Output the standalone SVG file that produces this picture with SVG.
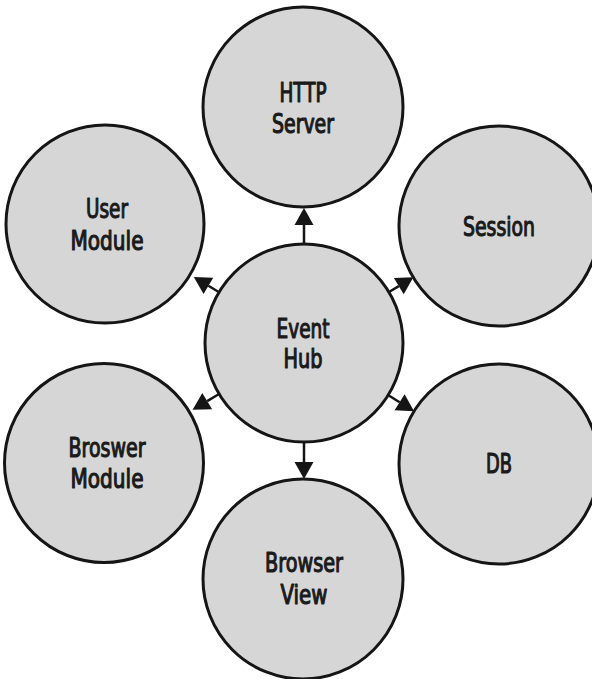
<svg xmlns="http://www.w3.org/2000/svg" width="592" height="679" viewBox="0 0 592 679">
<style>
.node circle{fill:#d6d6d6;stroke:#151515;stroke-width:3}
.node text{font-family:"DejaVu Sans Condensed","Liberation Sans Narrow","Liberation Sans",sans-serif;font-size:26px;font-weight:normal;fill:#1a1a1a;stroke:#1a1a1a;stroke-width:1.1;stroke-linejoin:round;text-anchor:middle}
.conn line{stroke:#151515;stroke-width:2.5;marker-end:url(#arr)}
</style>
<defs>
<marker id="arr" markerUnits="userSpaceOnUse" markerWidth="17" markerHeight="19" refX="0" refY="9.5" orient="auto" overflow="visible">
<path d="M0,0 L17,9.5 L0,19 z" fill="#151515"/>
</marker>
</defs>
<rect width="592" height="679" fill="#ffffff"/>
<g id="http-server" class="node">
<circle cx="303" cy="107" r="100"/>
<text x="303" y="102" textLength="47" lengthAdjust="spacingAndGlyphs">HTTP</text>
<text x="303" y="133" textLength="62" lengthAdjust="spacingAndGlyphs">Server</text>
</g>
<g id="user-module" class="node">
<circle cx="105" cy="224" r="99"/>
<text x="107" y="218" textLength="42" lengthAdjust="spacingAndGlyphs">User</text>
<text x="107" y="250" textLength="73" lengthAdjust="spacingAndGlyphs">Module</text>
</g>
<g id="session" class="node">
<circle cx="499" cy="226" r="100"/>
<text x="499" y="236" textLength="72" lengthAdjust="spacingAndGlyphs">Session</text>
</g>
<g id="event-hub" class="node">
<circle cx="304" cy="343" r="99"/>
<text x="303" y="338" textLength="53" lengthAdjust="spacingAndGlyphs">Event</text>
<text x="303" y="368" textLength="39" lengthAdjust="spacingAndGlyphs">Hub</text>
</g>
<g id="broswer-module" class="node">
<circle cx="104" cy="463" r="99.5"/>
<text x="107" y="457" textLength="77" lengthAdjust="spacingAndGlyphs">Broswer</text>
<text x="107" y="488" textLength="73" lengthAdjust="spacingAndGlyphs">Module</text>
</g>
<g id="db" class="node">
<circle cx="499" cy="464" r="100"/>
<text x="499" y="473" textLength="26" lengthAdjust="spacingAndGlyphs">DB</text>
</g>
<g id="browser-view" class="node">
<circle cx="303" cy="579" r="100"/>
<text x="304" y="572" textLength="78" lengthAdjust="spacingAndGlyphs">Browser</text>
<text x="304" y="604" textLength="47" lengthAdjust="spacingAndGlyphs">View</text>
</g>
<g id="connectors" class="conn">
<line x1="304" y1="244" x2="304" y2="225"/>
<line x1="304" y1="442" x2="304" y2="462"/>
<line x1="219.1" y1="292.2" x2="208.4" y2="285.8"/>
<line x1="389" y1="292" x2="398.8" y2="286.1"/>
<line x1="219" y1="394" x2="207.2" y2="401.1"/>
<line x1="388" y1="395" x2="399.6" y2="402.2"/>
</g>
</svg>
